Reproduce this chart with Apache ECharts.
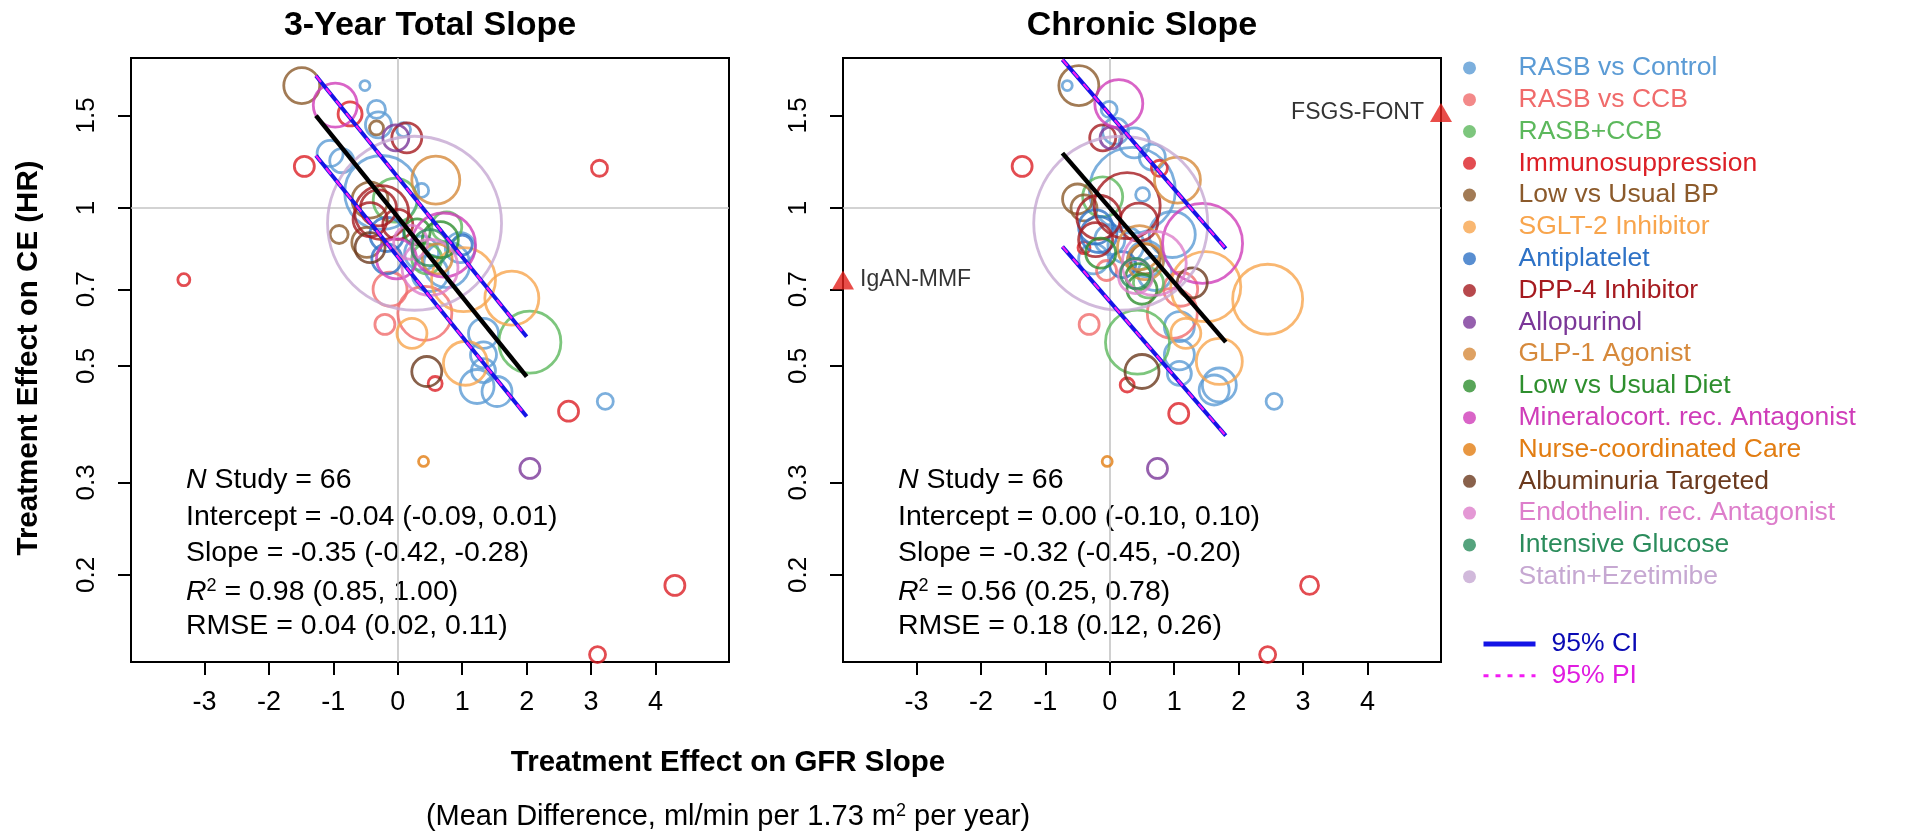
<!DOCTYPE html>
<html>
<head>
<meta charset="utf-8">
<script src="https://cdn.jsdelivr.net/npm/echarts@6.0.0/dist/echarts.min.js"></script>
<style>
  html, body { margin: 0; padding: 0; background: #fff; }
  #main { width: 1909px; height: 832px; }
</style>
</head>
<body>
<div id="main"></div>
<script>
// treatment classes (legend order) and their colours
var groups = ['RASB vs Control', 'RASB vs CCB', 'RASB+CCB', 'Immunosuppression', 'Low vs Usual BP',
  'SGLT-2 Inhibitor', 'Antiplatelet', 'DPP-4 Inhibitor', 'Allopurinol', 'GLP-1 Agonist',
  'Low vs Usual Diet', 'Mineralocort. rec. Antagonist', 'Nurse-coordinated Care',
  'Albuminuria Targeted', 'Endothelin. rec. Antagonist', 'Intensive Glucose', 'Statin+Ezetimibe'];
var groupColors = ['#5B9BD5', '#F06B6B', '#5CB85C', '#DC1F26', '#8B5A2B',
  '#F8A54D', '#2E72C6', '#A51A1F', '#7B3798', '#D6893B',
  '#2E8F2E', '#CF3DB9', '#E27D12', '#6B3A1E', '#DD7ECB', '#2B8C5C', '#C6A8D2'];

// studies: [group, effect on GFR slope, HR on clinical endpoint, weight]
var totalSlope = [
  [4, -1.49, 1.71, 3.24], [11, -0.97, 1.57, 4.84], [0, -0.51, 1.71, 0.25], [3, -0.74, 1.51, 1.44],
  [0, -0.33, 1.54, 0.81], [0, -0.30, 1.44, 1.69], [4, -0.33, 1.42, 0.49], [8, -0.03, 1.36, 1.69],
  [7, 0.14, 1.36, 2.25], [0, 0.09, 1.41, 0.49], [3, -1.45, 1.20, 1.0], [0, -1.05, 1.27, 1.69],
  [0, -0.87, 1.23, 1.44], [16, 0.26, 0.935, 75.69], [9, 0.59, 1.13, 5.76], [0, -0.25, 1.07, 13.69],
  [4, -0.43, 1.035, 3.24], [7, -0.25, 0.98, 7.29], [7, -0.30, 1.0, 3.24], [2, -0.04, 1.035, 4.84],
  [4, -0.91, 0.89, 0.81], [6, -0.17, 0.89, 2.89], [11, 0.71, 0.85, 10.24], [10, 0.66, 0.87, 3.24],
  [14, 0.50, 0.77, 7.84], [0, 0.76, 0.78, 5.29], [5, 1.77, 0.673, 7.29], [5, 1.02, 0.73, 10.24],
  [1, -0.12, 0.70, 2.89], [1, 0.42, 0.63, 7.29], [1, -0.20, 0.60, 1.0], [5, 0.22, 0.577, 2.25],
  [2, 2.05, 0.555, 9.61], [0, 1.33, 0.577, 2.25], [7, -0.43, 0.95, 2.89], [4, -0.48, 0.86, 2.25],
  [6, -0.17, 0.80, 2.25], [11, -0.02, 0.80, 4.0], [9, 0.61, 0.80, 2.25], [15, 0.50, 0.84, 3.24],
  [0, 0.97, 0.84, 2.25], [0, 0.37, 0.82, 2.89], [7, 0.0, 0.93, 2.25], [0, 0.50, 0.75, 3.24],
  [2, 0.76, 0.92, 2.25], [6, 1.0, 0.85, 1.0], [13, -0.43, 0.84, 2.25], [5, 1.05, 0.506, 4.84],
  [13, 0.45, 0.488, 2.25], [3, 0.58, 0.463, 0.49], [0, 1.33, 0.525, 1.69], [0, 1.23, 0.457, 2.89],
  [0, 1.54, 0.447, 2.25], [0, 1.33, 0.49, 1.44], [3, 2.65, 0.41, 1.0], [0, 3.22, 0.428, 0.64],
  [12, 0.40, 0.329, 0.25], [8, 2.05, 0.319, 1.0], [3, 3.1, 0.141, 0.64], [3, 4.3, 0.191, 1.0],
  [3, -3.32, 0.73, 0.36], [3, 3.13, 1.19, 0.64], [0, 0.37, 1.08, 0.49], [10, 0.3, 0.90, 1.69],
  [2, 0.45, 0.80, 2.25], [14, 0.2, 0.86, 2.89]
];
var chronicSlope = [
  [4, -0.48, 1.71, 4.0], [0, -0.66, 1.71, 0.25], [11, 0.14, 1.58, 5.76], [0, -0.01, 1.54, 0.64],
  [0, 0.09, 1.40, 1.69], [7, -0.11, 1.36, 1.69], [8, 0.02, 1.36, 1.21], [0, 0.38, 1.33, 2.25],
  [0, 0.66, 1.25, 1.69], [3, 0.77, 1.19, 0.64], [3, -1.36, 1.20, 1.0], [9, 1.05, 1.13, 5.29],
  [16, 0.17, 0.935, 75.69], [0, 0.35, 1.08, 18.49], [4, -0.50, 1.04, 2.25], [2, -0.11, 1.05, 4.0],
  [7, 0.27, 1.01, 10.89], [7, -0.17, 0.96, 4.84], [0, 0.51, 1.06, 0.49], [11, 1.44, 0.856, 16.0],
  [0, 0.97, 0.89, 5.29], [6, -0.22, 0.92, 2.89], [3, -0.40, 0.84, 0.36], [10, -0.14, 0.82, 2.25],
  [14, 0.69, 0.784, 10.24], [13, 1.28, 0.72, 2.25], [5, 1.49, 0.708, 12.25], [5, 2.45, 0.67, 12.25],
  [1, -0.32, 0.60, 1.0], [1, 0.97, 0.63, 6.25], [2, 0.43, 0.555, 10.24], [5, 1.18, 0.577, 2.25],
  [0, 1.08, 0.594, 2.25], [13, 0.5, 0.488, 2.89], [3, 0.27, 0.46, 0.49], [5, 1.70, 0.51, 5.29],
  [0, 1.08, 0.525, 2.25], [0, 1.08, 0.484, 1.44], [0, 1.62, 0.45, 2.25], [0, 1.70, 0.46, 2.89],
  [0, 2.55, 0.428, 0.64], [3, 1.07, 0.406, 1.0], [12, -0.04, 0.329, 0.25], [8, 0.74, 0.319, 1.0],
  [3, 3.10, 0.191, 0.81], [3, 2.45, 0.141, 0.64], [9, 0.46, 0.84, 4.84], [6, -0.17, 0.89, 3.24],
  [7, -0.22, 0.87, 2.89], [15, 0.40, 0.75, 2.25], [0, 0.56, 0.80, 3.24], [0, 0.25, 0.85, 3.24],
  [10, 0.45, 0.74, 1.69], [4, -0.40, 1.0, 1.69], [0, -0.25, 0.80, 2.25], [0, 0.70, 0.75, 2.89],
  [1, 1.10, 0.70, 2.89], [7, 0.45, 0.94, 3.61], [1, -0.05, 0.76, 1.0], [10, 0.5, 0.70, 2.25],
  [9, 0.55, 0.79, 3.24], [0, 0.0, 0.87, 2.25], [6, 0.2, 0.78, 1.69], [2, 0.6, 0.72, 2.25],
  [14, 0.4, 0.74, 2.89], [4, 0.55, 0.80, 2.25]
];
// studies outside the x range, drawn at the panel edge
var chronicOutside = [['FSGS-FONT', 5.14, 1.52, 'left'], ['IgAN-MMF', -4.14, 0.729, 'right']];

// meta-regression on log(HR): intercept, slope, x from, x to, band half width (CI and PI)
var totalFit = [-0.04, -0.35, -1.27, 2.0, 0.175, 0.175];
var chronicFit = [0.0, -0.327, -0.735, 1.80, 0.41, 0.41];

var totalStats = ['{i|N} Study = 66', 'Intercept = -0.04 (-0.09, 0.01)', 'Slope = -0.35 (-0.42, -0.28)',
  '{i|R}{sup|2} = 0.98 (0.85, 1.00)', 'RMSE = 0.04 (0.02, 0.11)'];
var chronicStats = ['{i|N} Study = 66', 'Intercept = 0.00 (-0.10, 0.10)', 'Slope = -0.32 (-0.45, -0.20)',
  '{i|R}{sup|2} = 0.56 (0.25, 0.78)', 'RMSE = 0.18 (0.12, 0.26)'];

var xRange = [-4.14, 5.14];
var yRange = [0.1365, 1.93];
var xTicks = [-3, -2, -1, 0, 1, 2, 3, 4];
var yTicks = [0.2, 0.3, 0.5, 0.7, 1, 1.5];
var panelTitles = ['3-Year Total Slope', 'Chronic Slope'];

var FONT = "'Liberation Sans', Arial, Helvetica, sans-serif";
var myChart = echarts.init(document.getElementById('main'), null, { renderer: 'canvas' });

function fitLine(fit, shift) {
  return [fit[2], fit[3]].map(function (x) {
    return [x, Math.exp(fit[0] + fit[1] * x + shift)];
  });
}

function panelSeries(rows, fit, p) {
  var out = [];
  // reference lines at 0 and HR = 1
  out.push({
    type: 'scatter', xAxisIndex: p, yAxisIndex: p, data: [], silent: true, z: 1,
    markLine: {
      silent: true, symbol: 'none', z: 1, label: { show: false },
      lineStyle: { color: '#C4C4C4', width: 1.6, type: 'solid' },
      data: [{ xAxis: 0 }, { yAxis: 1 }]
    }
  });
  groups.forEach(function (g, gi) {
    var pts = rows.filter(function (r) { return r[0] === gi; })
      .map(function (r) { return [r[1], r[2], r[3]]; });
    if (!pts.length) return;
    out.push({
      name: g, type: 'scatter', xAxisIndex: p, yAxisIndex: p, clip: false, z: 3,
      symbol: 'circle',
      symbolSize: function (v) { return 20 * Math.sqrt(v[2]); },
      itemStyle: { color: 'rgba(0,0,0,0)', borderColor: groupColors[gi], borderWidth: 2.8 },
      emphasis: { disabled: true },
      data: pts
    });
  });
  out.push({
    name: 'fit', type: 'line', xAxisIndex: p, yAxisIndex: p, symbol: 'none', z: 6,
    lineStyle: { color: '#000', width: 4.5 }, data: fitLine(fit, 0)
  });
  [1, -1].forEach(function (s) {
    out.push({
      name: '95% CI', type: 'line', xAxisIndex: p, yAxisIndex: p, symbol: 'none', z: 6,
      itemStyle: { color: '#1414E6' },
      lineStyle: { color: '#1414E6', width: 4 }, data: fitLine(fit, s * fit[4])
    });
    out.push({
      name: '95% PI', type: 'line', xAxisIndex: p, yAxisIndex: p, symbol: 'none', z: 7,
      itemStyle: { color: '#F21CF2' },
      lineStyle: { color: '#F21CF2', width: 2.2, type: [8, 8] }, data: fitLine(fit, s * fit[5])
    });
  });
  return out;
}

var series = panelSeries(totalSlope, totalFit, 0).concat(panelSeries(chronicSlope, chronicFit, 1));
series.push({
  name: 'outside', type: 'scatter', xAxisIndex: 1, yAxisIndex: 1, clip: false, z: 8,
  symbol: 'triangle', symbolSize: [22, 19],
  itemStyle: { color: '#E3211C' },
  label: { show: true, formatter: '{b}', color: '#000', fontSize: 23, fontFamily: FONT, distance: 6 },
  data: chronicOutside.map(function (o) {
    return { name: o[0], value: [o[1], o[2]], label: { position: o[3] } };
  })
});

var gridLeft = [131, 843];
var grids = gridLeft.map(function (l) {
  return { left: l, top: 58, width: 598, height: 604, show: true, borderColor: '#000', borderWidth: 2,
    backgroundColor: '#fff', outerBoundsMode: 'none' };
});
var xAxes = [0, 1].map(function (p) {
  return {
    type: 'value', gridIndex: p, min: xRange[0], max: xRange[1], position: 'bottom',
    axisLine: { show: true, onZero: false, lineStyle: { color: '#000', width: 2 } }, splitLine: { show: false },
    axisTick: { show: true, customValues: xTicks, length: 13, lineStyle: { color: '#000', width: 2 } },
    axisLabel: { customValues: xTicks, margin: 27, fontSize: 27, color: '#000', fontFamily: FONT }
  };
});
var yAxes = [0, 1].map(function (p) {
  return {
    type: 'log', gridIndex: p, min: yRange[0], max: yRange[1], position: 'left',
    axisLine: { show: true, onZero: false, lineStyle: { color: '#000', width: 2 } },
    splitLine: { show: false }, minorTick: { show: false },
    axisTick: { show: true, inside: false, customValues: yTicks, length: 13, lineStyle: { color: '#000', width: 2 } },
    axisLabel: { customValues: yTicks, rotate: 90, margin: 31, fontSize: 26, color: '#000', fontFamily: FONT,
      formatter: function (v) { return String(Math.round(v * 10) / 10); } }
  };
});

var graphics = [];
panelTitles.forEach(function (t, p) {
  graphics.push({ type: 'text', x: gridLeft[p] + 299, y: 26,
    style: { text: t, fontSize: 34, fontWeight: 'bold', fontFamily: FONT, fill: '#000', align: 'center', verticalAlign: 'middle' } });
});
graphics.push({ type: 'text', x: 29, y: 358, rotation: Math.PI / 2,
  style: { text: 'Treatment Effect on CE (HR)', fontSize: 29.5, fontWeight: 'bold', fontFamily: FONT, fill: '#000', align: 'center', verticalAlign: 'middle' } });
graphics.push({ type: 'text', x: 728, y: 763,
  style: { text: 'Treatment Effect on GFR Slope', fontSize: 29.5, fontWeight: 'bold', fontFamily: FONT, fill: '#000', align: 'center', verticalAlign: 'middle' } });
graphics.push({ type: 'text', x: 728, y: 817,
  style: { text: '(Mean Difference, ml/min per 1.73 m{sup|2} per year)', fontSize: 29, fontFamily: FONT, fill: '#000',
    align: 'center', verticalAlign: 'middle',
    rich: { sup: { fontSize: 18, fontFamily: FONT, verticalAlign: 'top', padding: [0, 0, 10, 0] } } } });

var statsY = [480, 517, 553, 592, 626];
[totalStats, chronicStats].forEach(function (lines, p) {
  lines.forEach(function (s, i) {
    graphics.push({ type: 'text', x: gridLeft[p] + 55, y: statsY[i],
      style: { text: s, fontSize: 28.5, fontFamily: FONT, fill: '#000', align: 'left', verticalAlign: 'middle',
        rich: {
          i: { fontStyle: 'italic', fontSize: 28.5, fontFamily: FONT },
          sup: { fontSize: 18, fontFamily: FONT, verticalAlign: 'top', padding: [0, 0, 10, 0] }
        } } });
  });
});

var option = {
  animation: false,
  backgroundColor: '#fff',
  textStyle: { fontFamily: FONT },
  grid: grids,
  xAxis: xAxes,
  yAxis: yAxes,
  legend: [
    {
      orient: 'vertical', left: 1458, top: 47, itemGap: 0, itemWidth: 88, itemHeight: 13,
      selectedMode: false, icon: 'circle',
      textStyle: { fontSize: 26.5, lineHeight: 31.8, fontFamily: FONT },
      data: groups.map(function (g, gi) {
        return { name: g, itemStyle: { color: groupColors[gi], borderWidth: 0 }, textStyle: { color: groupColors[gi] } };
      })
    },
    {
      orient: 'vertical', left: 1476, top: 623, itemGap: 0, itemWidth: 52, itemHeight: 14,
      selectedMode: false,
      textStyle: { fontSize: 26.5, lineHeight: 31.8, fontFamily: FONT, padding: [0, 0, 0, 11] },
      data: [
        { name: '95% CI', textStyle: { color: '#0A0AB4' },
          itemStyle: { color: 'rgba(0,0,0,0)', borderWidth: 0, opacity: 0 },
          lineStyle: { color: '#1414E6', width: 5, type: 'solid' } },
        { name: '95% PI', textStyle: { color: '#E01CE0' },
          itemStyle: { color: 'rgba(0,0,0,0)', borderWidth: 0, opacity: 0 },
          lineStyle: { color: '#F21CF2', width: 3, type: [5, 7] } }
      ]
    }
  ],
  graphic: graphics,
  series: series
};

option && myChart.setOption(option);
window.addEventListener('resize', myChart.resize);
</script>
</body>
</html>
